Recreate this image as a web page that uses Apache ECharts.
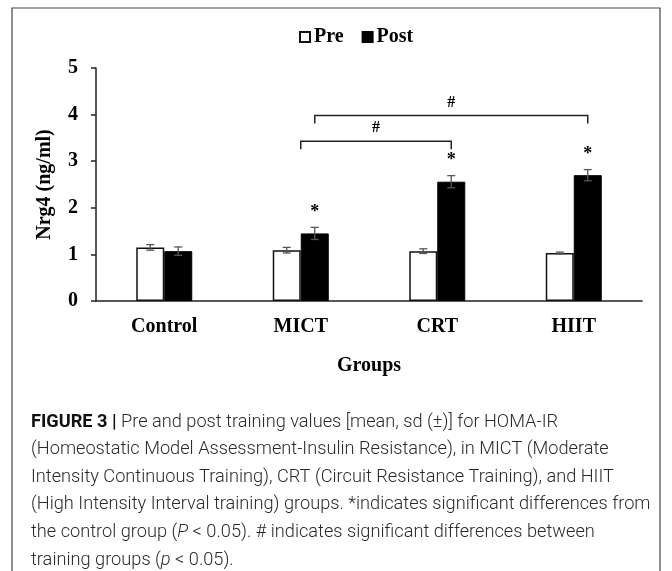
<!DOCTYPE html>
<html>
<head>
<meta charset="utf-8">
<script src="https://cdn.jsdelivr.net/npm/echarts@6/dist/echarts.min.js"></script>
<style>
  html, body { margin: 0; padding: 0; background: #fff; }
  #chart { width: 672px; height: 571px; }
</style>
</head>
<body>
<div id="chart"></div>
<script>
// values
const categories = ['Control', 'MICT', 'CRT', 'HIIT'];
const preMean = [1.15, 1.09, 1.07, 1.03];
const preSd = [0.06, 0.06, 0.05, 0.02];
const postMean = [1.07, 1.45, 2.56, 2.70];
const postSd = [0.09, 0.13, 0.13, 0.12];
const postStar = ['', '*', '*', '*'];
const yTicks = [0, 1, 2, 3, 4, 5];
// brackets: start category, start side, end category, end side, level
// side: 0 = middle of the group, 1 = post bar
const bracketFrom = [1, 1];
const bracketFromSide = [0, 1];
const bracketTo = [2, 3];
const bracketToSide = [1, 1];
const bracketLevel = [3.43, 3.98];
const bracketLabel = ['#', '#'];

const captionLines = [
  '{b|FIGURE 3 |} Pre and post training values [mean, sd (±)] for HOMA-IR',
  '(Homeostatic Model Assessment-Insulin Resistance), in MICT (Moderate',
  'Intensity Continuous Training), CRT (Circuit Resistance Training), and HIIT',
  '(High Intensity Interval training) groups. *indicates significant differences from',
  'the control group ({i|P} < 0.05). # indicates significant differences between',
  'training groups ({i|p} < 0.05).'
];

const serif = '"Liberation Serif", "Times New Roman", serif';
const sans = 'Roboto, "Liberation Sans", sans-serif';
const barW = 28;
const half = barW / 2;

const chart = echarts.init(document.getElementById('chart'));

function errorItem(offset, stars) {
  return function (params, api) {
    const idx = api.value(0);
    const mean = api.value(1);
    const sd = api.value(2);
    const top = api.coord([idx, mean + sd]);
    const bot = api.coord([idx, mean - sd]);
    const x = top[0] + offset;
    const cap = 4;
    const st = { stroke: '#555', lineWidth: 1.3 };
    const children = [
      { type: 'line', shape: { x1: x, y1: top[1], x2: x, y2: bot[1] }, style: st },
      { type: 'line', shape: { x1: x - cap, y1: top[1], x2: x + cap, y2: top[1] }, style: st },
      { type: 'line', shape: { x1: x - cap, y1: bot[1], x2: x + cap, y2: bot[1] }, style: st }
    ];
    if (stars && stars[idx]) {
      children.push({
        type: 'text',
        style: {
          x: x, y: top[1] - 15, text: stars[idx],
          font: 'bold 18px ' + serif, fill: '#000',
          align: 'center', verticalAlign: 'middle'
        }
      });
    }
    return { type: 'group', children: children };
  };
}

function bracketItem(params, api) {
  const i = params.dataIndex;
  const level = api.value(4);
  const x1 = api.coord([api.value(0), level])[0] + api.value(1) * half;
  const x2 = api.coord([api.value(2), level])[0] + api.value(3) * half;
  const y = api.coord([api.value(0), level])[1];
  const drop = 8;
  return {
    type: 'group',
    children: [
      {
        type: 'polyline',
        shape: { points: [[x1, y + drop], [x1, y], [x2, y], [x2, y + drop]] },
        style: { stroke: '#222', lineWidth: 1.5, fill: null }
      },
      {
        type: 'text',
        style: {
          x: (x1 + x2) / 2, y: y - 13, text: bracketLabel[i],
          font: 'bold 16px ' + serif, fill: '#000',
          align: 'center', verticalAlign: 'middle'
        }
      }
    ]
  };
}

const bracketData = bracketLevel.map((v, i) => [bracketFrom[i], bracketFromSide[i], bracketTo[i], bracketToSide[i], v]);

const caption = captionLines.map((line, i) => ({
  type: 'text',
  left: 31,
  top: 413 + i * 27.6,
  style: {
    text: line,
    font: '300 18.2px ' + sans,
    fill: '#2a2a2a',
    rich: {
      b: { font: 'bold 18.2px ' + sans, fill: '#111' },
      i: { font: 'italic 300 18.2px ' + sans, fill: '#2a2a2a' }
    }
  }
}));

const labelFont = { fontFamily: serif, fontWeight: 'bold', fontSize: 20, color: '#000' };

const option = {
  animation: false,
  backgroundColor: '#fff',
  legend: {
    top: 22,
    left: 294,
    itemWidth: 10,
    itemHeight: 10,
    itemGap: 18,
    icon: 'rect',
    textStyle: { fontFamily: serif, fontWeight: 'bold', fontSize: 20, color: '#000', padding: [0, 0, 0, -1] },
    data: ['Pre', 'Post']
  },
  grid: {
    left: 96,
    right: 30,
    top: 68,
    bottom: 270,
    containLabel: false
  },
  xAxis: {
    type: 'category',
    data: categories,
    name: 'Groups',
    nameLocation: 'middle',
    nameGap: 55,
    nameTextStyle: labelFont,
    axisLine: { lineStyle: { color: '#222', width: 1.5 } },
    axisTick: { show: false },
    axisLabel: Object.assign({ margin: 16 }, labelFont)
  },
  yAxis: {
    type: 'value',
    min: yTicks[0],
    max: yTicks[yTicks.length - 1],
    interval: 1,
    name: 'Nrg4 (ng/ml)',
    nameLocation: 'middle',
    nameGap: 41,
    nameTextStyle: labelFont,
    axisLine: { show: true, lineStyle: { color: '#222', width: 1.5 } },
    axisTick: { show: true, length: 5, lineStyle: { color: '#222', width: 1.5 } },
    splitLine: { show: false },
    axisLabel: Object.assign({ margin: 18 }, labelFont)
  },
  series: [
    {
      name: 'Pre',
      type: 'bar',
      barWidth: barW,
      barGap: '0%',
      data: preMean,
      itemStyle: { color: '#fff', borderColor: '#111', borderWidth: 1.5 }
    },
    {
      name: 'Post',
      type: 'bar',
      barWidth: barW,
      barGap: '0%',
      data: postMean,
      itemStyle: { color: '#000', borderColor: '#000', borderWidth: 1 }
    },
    {
      type: 'custom',
      z: 5,
      renderItem: errorItem(-half, null),
      encode: { x: 0, y: 1 },
      data: preMean.map((v, i) => [i, v, preSd[i]])
    },
    {
      type: 'custom',
      z: 5,
      renderItem: errorItem(half, postStar),
      encode: { x: 0, y: 1 },
      data: postMean.map((v, i) => [i, v, postSd[i]])
    },
    {
      type: 'custom',
      z: 5,
      renderItem: bracketItem,
      encode: { x: 0, y: 4 },
      data: bracketData
    }
  ],
  graphic: [
    {
      type: 'rect',
      shape: { x: 12, y: 8, width: 648, height: 620 },
      style: { fill: null, stroke: '#444', lineWidth: 1.2 },
      silent: true
    }
  ].concat(caption)
};

chart.setOption(option);
</script>
</body>
</html>
